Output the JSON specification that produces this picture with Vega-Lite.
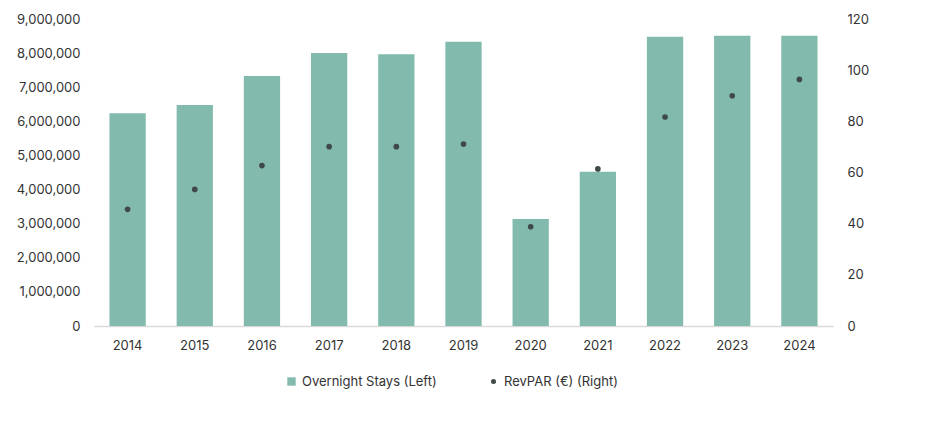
{
  "$schema": "https://vega.github.io/schema/vega-lite/v6.json",
  "width": 739,
  "height": 307,
  "autosize": {"type": "none"},
  "padding": {"left": 94, "top": 19, "right": 117, "bottom": 119},
  "background": "white",
  "config": {
    "view": {"stroke": null},
    "font": "Inter",
    "axis": {"labelFont": "Inter", "labelFontSize": 13, "labelColor": "#333333", "grid": false, "ticks": false, "title": null},
    "legend": {"labelFont": "Inter", "labelFontSize": 13, "labelColor": "#333333"}
  },
  "data": {
    "values": [
      {"year": "2014", "stays": 6240000, "revpar": 45.6},
      {"year": "2015", "stays": 6480000, "revpar": 53.4},
      {"year": "2016", "stays": 7330000, "revpar": 62.7},
      {"year": "2017", "stays": 8000000, "revpar": 70.1},
      {"year": "2018", "stays": 7970000, "revpar": 70.1},
      {"year": "2019", "stays": 8330000, "revpar": 71.1},
      {"year": "2020", "stays": 3140000, "revpar": 38.8},
      {"year": "2021", "stays": 4520000, "revpar": 61.4},
      {"year": "2022", "stays": 8480000, "revpar": 81.7},
      {"year": "2023", "stays": 8510000, "revpar": 90.0},
      {"year": "2024", "stays": 8510000, "revpar": 96.4}
    ]
  },
  "encoding": {
    "x": {
      "field": "year", "type": "ordinal",
      "scale": {"paddingInner": 0.46, "paddingOuter": 0.23},
      "axis": {"labelAngle": 0, "labelPadding": 13, "domainColor": "#d9d9d9", "domainWidth": 1.5}
    }
  },
  "layer": [
    {
      "mark": {"type": "bar", "color": "#82bbad"},
      "encoding": {
        "y": {
          "field": "stays", "type": "quantitative",
          "scale": {"domain": [0, 9000000], "nice": false},
          "axis": {"orient": "left", "values": [0,1000000,2000000,3000000,4000000,5000000,6000000,7000000,8000000,9000000], "format": ",d", "domain": false, "labelPadding": 14}
        },
        "color": {
          "datum": "Overnight Stays (Left)",
          "scale": {"range": ["#82bbad"]},
          "legend": {"orient": "none", "legendX": 191, "legendY": 356, "symbolType": "square", "symbolSize": 70, "title": null, "symbolStrokeWidth": 0}
        }
      }
    },
    {
      "mark": {"type": "point", "filled": true, "size": 32, "opacity": 1},
      "encoding": {
        "y": {
          "field": "revpar", "type": "quantitative",
          "scale": {"domain": [0, 120], "nice": false},
          "axis": {"orient": "right", "values": [0,20,40,60,80,100,120], "domain": false, "labelPadding": 14}
        },
        "color": {
          "datum": "RevPAR (€) (Right)",
          "scale": {"range": ["#3f4947"]},
          "legend": {"orient": "none", "legendX": 393, "legendY": 356, "symbolType": "circle", "symbolSize": 25, "title": null}
        }
      }
    }
  ],
  "resolve": {"scale": {"y": "independent", "color": "independent"}, "legend": {"color": "independent"}}
}
